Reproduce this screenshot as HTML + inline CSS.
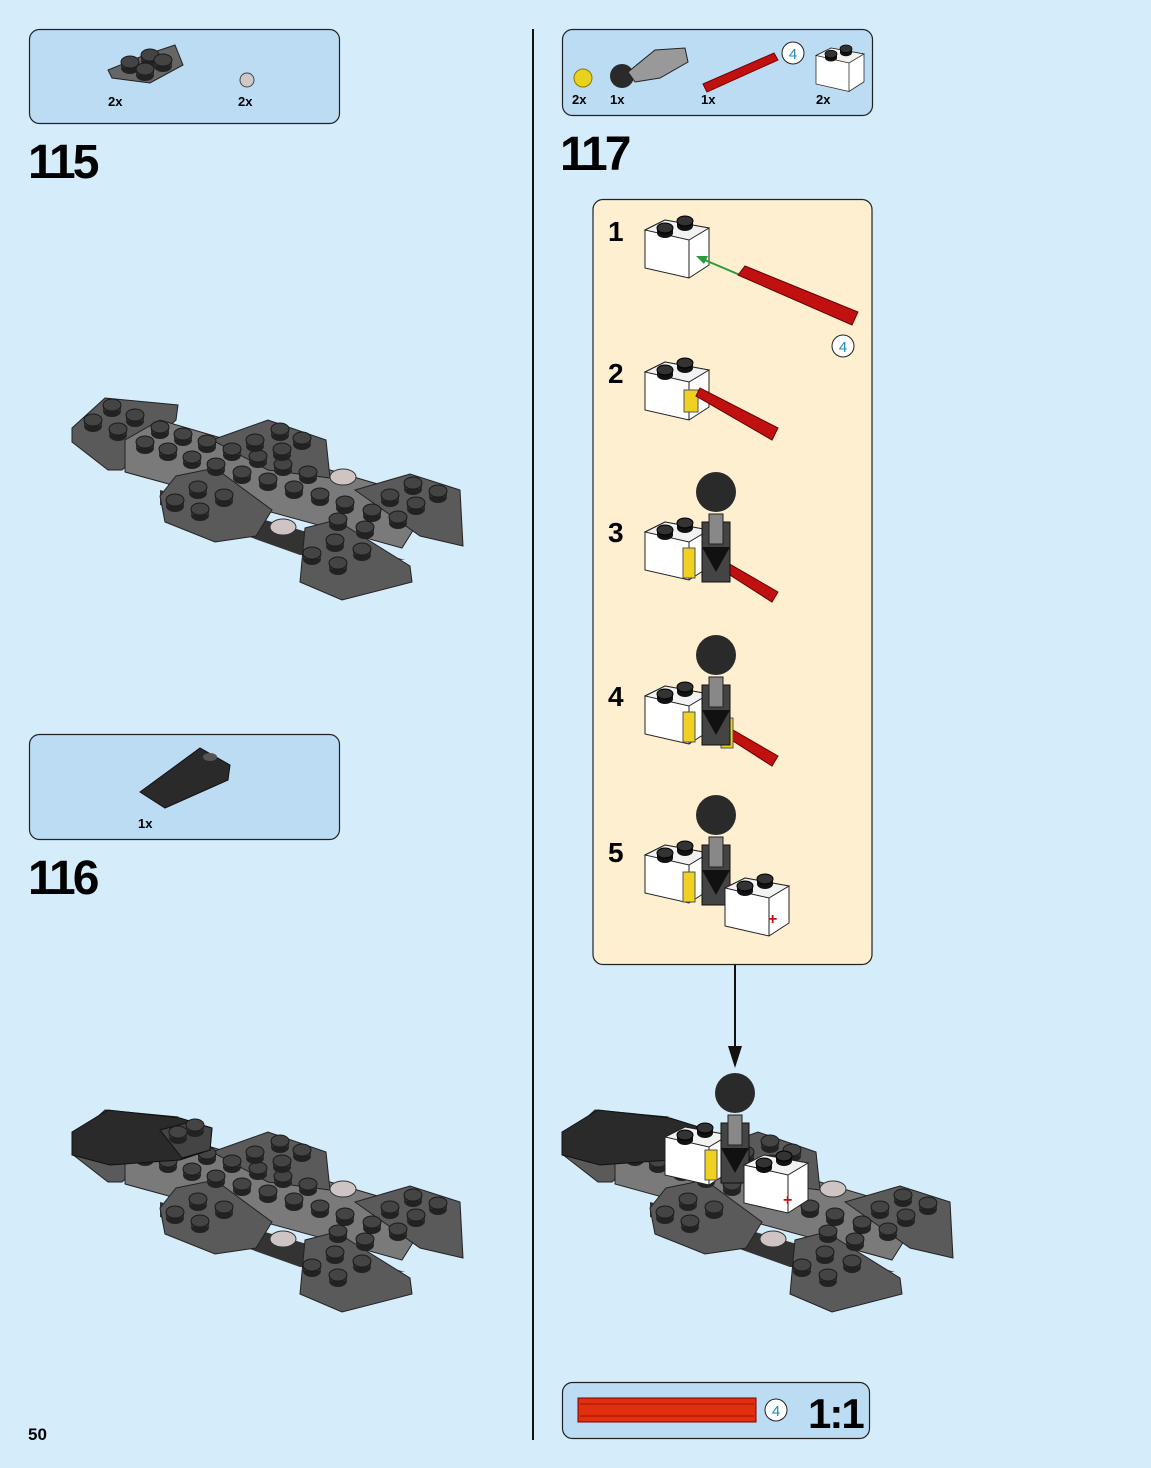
<!DOCTYPE html>
<html><head><meta charset="utf-8"><style>
html,body{margin:0;padding:0}
body{width:1151px;height:1468px;background:#d5ecfb;position:relative;overflow:hidden;font-family:"Liberation Sans",sans-serif}
svg{position:absolute;left:0;top:0}
</style></head><body>
<svg width="1151" height="1468" viewBox="0 0 1151 1468" xmlns="http://www.w3.org/2000/svg" font-family="Liberation Sans, sans-serif">
<defs>
<g id="st"><ellipse cx="0" cy="3" rx="9" ry="6" fill="#222"/><rect x="-9" y="-3" width="18" height="6" fill="#2e2e2e"/><ellipse cx="0" cy="-3" rx="9" ry="6" fill="#444" stroke="#1a1a1a" stroke-width="1"/></g>
<g id="sw"><ellipse cx="0" cy="3" rx="8" ry="5" fill="#111"/><rect x="-8" y="-2" width="16" height="5" fill="#111"/><ellipse cx="0" cy="-2" rx="8" ry="5" fill="#333" stroke="#000"/></g>
<g id="base">
 <polygon points="72,428 105,398 178,405 176,420 122,470 108,470 72,442" fill="#5a5a5a" stroke="#222"/>
 <polygon points="125,440 160,420 432,500 402,548 125,472" fill="#7a7a7a" stroke="#222"/>
 <polygon points="160,490 300,530 405,560 300,555 160,505" fill="#333"/>
 <polygon points="212,440 268,420 326,440 330,478 268,470" fill="#5a5a5a" stroke="#222"/>
 <polygon points="176,476 215,468 272,510 256,536 215,542 165,522 160,496" fill="#5a5a5a" stroke="#222"/>
 <polygon points="355,490 410,474 460,490 463,546 420,536" fill="#5a5a5a" stroke="#222"/>
 <polygon points="305,528 336,520 410,566 412,582 342,600 300,582" fill="#5a5a5a" stroke="#222"/>
 <ellipse cx="343" cy="477" rx="13" ry="8" fill="#cfc4c4" stroke="#333"/>
 <ellipse cx="283" cy="527" rx="13" ry="8" fill="#cfc4c4" stroke="#333"/>
 <g>
 <use href="#st" x="112" y="408"/><use href="#st" x="93" y="423"/><use href="#st" x="135" y="418"/><use href="#st" x="118" y="432"/>
 <use href="#st" x="160" y="430"/><use href="#st" x="145" y="445"/><use href="#st" x="183" y="437"/><use href="#st" x="168" y="452"/>
 <use href="#st" x="207" y="444"/><use href="#st" x="192" y="460"/><use href="#st" x="232" y="452"/><use href="#st" x="216" y="467"/>
 <use href="#st" x="258" y="459"/><use href="#st" x="242" y="475"/><use href="#st" x="283" y="467"/><use href="#st" x="268" y="482"/>
 <use href="#st" x="308" y="475"/><use href="#st" x="294" y="490"/><use href="#st" x="320" y="497"/><use href="#st" x="345" y="505"/>
 <use href="#st" x="372" y="513"/><use href="#st" x="398" y="520"/><use href="#st" x="338" y="522"/><use href="#st" x="365" y="530"/>
 <use href="#st" x="280" y="432"/><use href="#st" x="302" y="441"/><use href="#st" x="255" y="443"/><use href="#st" x="282" y="452"/>
 <use href="#st" x="198" y="490"/><use href="#st" x="175" y="503"/><use href="#st" x="224" y="498"/><use href="#st" x="200" y="512"/>
 <use href="#st" x="413" y="486"/><use href="#st" x="438" y="494"/><use href="#st" x="390" y="498"/><use href="#st" x="416" y="506"/>
 <use href="#st" x="335" y="543"/><use href="#st" x="312" y="556"/><use href="#st" x="362" y="552"/><use href="#st" x="338" y="566"/>
 </g>
</g>
<g id="wb"><polygon points="0,10 20,0 64,8 64,45 44,58 0,48" fill="#fff" stroke="#222"/><polygon points="0,10 20,0 64,8 44,20" fill="#f2f2f2" stroke="#222"/><polyline points="44,20 44,58" stroke="#222" fill="none"/><use href="#sw" x="20" y="10"/><use href="#sw" x="40" y="3"/></g>
<g id="ball"><rect x="-14" y="30" width="28" height="60" fill="#444" stroke="#111"/><rect x="-7" y="22" width="14" height="30" fill="#888" stroke="#222"/><circle cx="0" cy="0" r="20" fill="#2a2a2a"/><polygon points="-14,55 14,55 0,80" fill="#111"/></g>
</defs>

<!-- left column -->
<rect x="29.5" y="29.5" width="310" height="94" rx="10" fill="#bcdcf4" stroke="#222" stroke-width="1.2"/>
<polygon points="108,70 145,55 175,45 183,65 150,83 112,78" fill="#666" stroke="#222"/>
<use href="#st" x="130" y="65"/><use href="#st" x="150" y="58"/><use href="#st" x="145" y="72"/><use href="#st" x="163" y="63"/>
<circle cx="247" cy="80" r="7" fill="#cfc8c8" stroke="#444"/>
<text x="108" y="106" font-size="13" font-weight="bold">2x</text>
<text x="238" y="106" font-size="13" font-weight="bold">2x</text>
<text x="28" y="178" font-size="48" font-weight="bold" letter-spacing="-3">115</text>
<use href="#base"/>

<rect x="29.5" y="734.5" width="310" height="105" rx="10" fill="#bcdcf4" stroke="#222" stroke-width="1.2"/>
<polygon points="140,792 200,748 230,765 228,780 165,808" fill="#2a2a2a" stroke="#111"/>
<ellipse cx="210" cy="757" rx="7" ry="4" fill="#555"/>
<text x="138" y="828" font-size="13" font-weight="bold">1x</text>
<text x="28" y="894" font-size="48" font-weight="bold" letter-spacing="-3">116</text>
<use href="#base" y="712"/>
<polygon points="72,1132 108,1110 180,1118 212,1128 210,1150 180,1160 110,1165 72,1155" fill="#2a2a2a" stroke="#111"/>
<polygon points="160,1130 190,1122 212,1128 210,1150 182,1158" fill="#444" stroke="#111"/>
<use href="#st" x="178" y="1135"/><use href="#st" x="195" y="1128"/>

<!-- divider -->
<line x1="533" y1="29" x2="533" y2="1440" stroke="#111" stroke-width="2"/>

<!-- right column -->
<rect x="562.5" y="29.5" width="310" height="86" rx="10" fill="#bcdcf4" stroke="#222" stroke-width="1.2"/>
<circle cx="583" cy="78" r="9" fill="#e8d21e" stroke="#8a7a00"/>
<circle cx="622" cy="76" r="12" fill="#2a2a2a"/>
<polygon points="628,72 655,50 685,48 688,62 660,78 635,82" fill="#999" stroke="#222"/>
<polygon points="703,84 774,53 778,60 707,92" fill="#c01010" stroke="#700"/>
<circle cx="793" cy="53" r="11" fill="#fff" stroke="#222"/>
<text x="793" y="59" font-size="15" fill="#1a8ac0" text-anchor="middle">4</text>
<g transform="translate(816,48) scale(0.75)"><use href="#wb"/></g>
<text x="572" y="104" font-size="13" font-weight="bold">2x</text>
<text x="610" y="104" font-size="13" font-weight="bold">1x</text>
<text x="701" y="104" font-size="13" font-weight="bold">1x</text>
<text x="816" y="104" font-size="13" font-weight="bold">2x</text>
<text x="560" y="170" font-size="48" font-weight="bold" letter-spacing="-3">117</text>

<rect x="593" y="199.5" width="279" height="765" rx="10" fill="#fdefcf" stroke="#222" stroke-width="1.2"/>
<g font-size="28" font-weight="bold">
<text x="608" y="241">1</text><text x="608" y="383">2</text><text x="608" y="542">3</text><text x="608" y="706">4</text><text x="608" y="862">5</text>
</g>
<!-- step 1 -->
<use href="#wb" x="645" y="220"/>
<line x1="740" y1="275" x2="700" y2="258" stroke="#2a9a3a" stroke-width="2"/>
<polygon points="696,256 708,256 704,264" fill="#2a9a3a"/>
<polygon points="738,275 745,266 858,312 852,325" fill="#c01010" stroke="#600"/>
<circle cx="843" cy="346" r="11" fill="#fff" stroke="#222"/>
<text x="843" y="352" font-size="15" fill="#1a8ac0" text-anchor="middle">4</text>
<!-- step 2 -->
<use href="#wb" x="645" y="362"/>
<rect x="684" y="390" width="14" height="22" fill="#f0d020" stroke="#555"/>
<polygon points="696,396 700,388 778,428 772,440" fill="#c01010" stroke="#600"/>
<!-- step 3 -->
<use href="#wb" x="645" y="522"/>
<polygon points="722,570 726,562 778,592 772,602" fill="#c01010" stroke="#600"/>
<rect x="683" y="548" width="12" height="30" fill="#f0d020" stroke="#555"/>
<use href="#ball" x="716" y="492"/>
<!-- step 4 -->
<use href="#wb" x="645" y="686"/>
<polygon points="722,734 726,726 778,756 772,766" fill="#c01010" stroke="#600"/>
<rect x="683" y="712" width="12" height="30" fill="#f0d020" stroke="#555"/>
<rect x="721" y="718" width="12" height="30" fill="#f0d020" stroke="#555"/>
<use href="#ball" x="716" y="655"/>
<!-- step 5 -->
<use href="#wb" x="645" y="845"/>
<rect x="683" y="872" width="12" height="30" fill="#f0d020" stroke="#555"/>
<use href="#ball" x="716" y="815"/>
<use href="#wb" x="725" y="878"/>
<text x="768" y="924" font-size="16" fill="#c01010" font-weight="bold">+</text>

<line x1="735" y1="965" x2="735" y2="1050" stroke="#111" stroke-width="2"/>
<polygon points="728,1046 742,1046 735,1068" fill="#111"/>

<!-- final model -->
<use href="#base" x="490" y="712"/>
<polygon points="562,1132 598,1110 670,1118 702,1128 700,1150 670,1160 600,1165 562,1155" fill="#2a2a2a" stroke="#111"/>
<use href="#wb" x="665" y="1127"/>
<rect x="705" y="1150" width="12" height="30" fill="#f0d020" stroke="#555"/>
<use href="#ball" x="735" y="1093"/>
<use href="#wb" x="744" y="1155"/>
<text x="783" y="1205" font-size="16" fill="#c01010" font-weight="bold">+</text>

<!-- scale box -->
<rect x="562.5" y="1382.5" width="307" height="56" rx="10" fill="#bcdcf4" stroke="#222" stroke-width="1.2"/>
<rect x="578" y="1398" width="178" height="24" fill="#e03010" stroke="#700"/>
<line x1="580" y1="1404" x2="754" y2="1404" stroke="#a01000"/><line x1="580" y1="1416" x2="754" y2="1416" stroke="#a01000"/>
<circle cx="776" cy="1410" r="11" fill="#fff" stroke="#222"/>
<text x="776" y="1416" font-size="15" fill="#1a8ac0" text-anchor="middle">4</text>
<text x="808" y="1428" font-size="42" font-weight="bold" letter-spacing="-2">1:1</text>

<text x="28" y="1440" font-size="17" font-weight="bold">50</text>
</svg>
</body></html>
